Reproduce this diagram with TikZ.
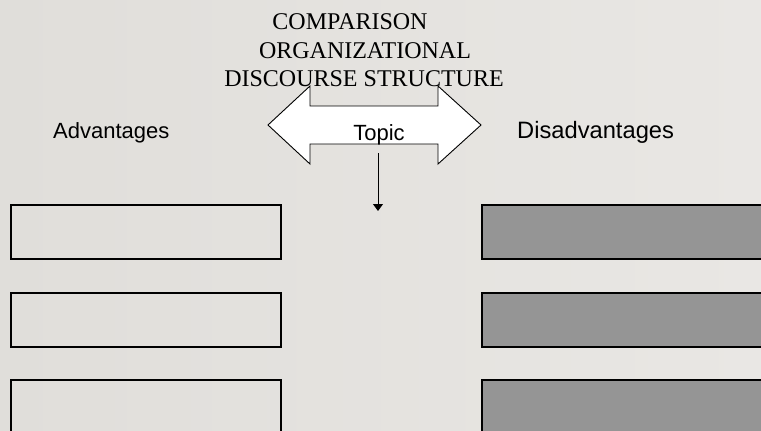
\documentclass[tikz,border=0pt]{standalone}
\usepackage{fontspec}
\setmainfont{Liberation Serif}
\newfontfamily\arialfont{Liberation Sans}
\usetikzlibrary{arrows.meta}
\definecolor{bgL}{RGB}{224,222,218}
\definecolor{bgR}{RGB}{233,231,228}
\definecolor{boxgray}{RGB}{149,149,149}
\tikzset{
  px/.style={x=1pt,y=-1pt},
  boxL/.style={draw=black,line width=1.3pt},
  boxR/.style={draw=black,line width=1.3pt,fill=boxgray},
  titletxt/.style={font=\fontsize{24}{28}\selectfont,anchor=base,inner sep=0pt},
  sidetxt/.style={font=\arialfont\fontsize{22}{26}\selectfont,anchor=base west,inner sep=0pt},
}
\begin{document}
\begin{tikzpicture}[px]
\useasboundingbox (0,0) rectangle (761,431);
\shade[left color=bgL,right color=bgR] (0,0) rectangle (761,431);
% title
\node[titletxt] (t1) at (350,29) {COMPARISON};
\node[titletxt] (t2) at (365,58) {ORGANIZATIONAL};
\node[titletxt] (t3) at (364,86) {DISCOURSE STRUCTURE};
% double arrow
\draw[black,line width=0.9pt,fill=white,line join=miter]
  (268,125) -- (310,86) -- (310,106) -- (438,106) -- (438,86) -- (481,125)
  -- (438,164) -- (438,144) -- (310,144) -- (310,164) -- cycle;
\node[sidetxt,anchor=base] (topic) at (379,140) {Topic};
\node[sidetxt] (adv) at (53,138) {Advantages};
\node[sidetxt,font=\arialfont\fontsize{23.7}{28}\selectfont] (dis) at (517,138) {Disadvantages};
% down arrow
\coordinate (ds) at (378,153);
\coordinate (de) at (378,211);
\draw[line width=0.9pt,-{Triangle[length=7pt,width=10pt]}] (ds) -- (de);
% boxes
\draw[boxL] (11,205) rectangle (281,259);
\draw[boxL] (11,293) rectangle (281,347);
\draw[boxL] (11,380) rectangle (281,440);
\draw[boxR] (482,205) rectangle (770,259);
\draw[boxR] (482,293) rectangle (770,347);
\draw[boxR] (482,380) rectangle (770,440);
\end{tikzpicture}
\end{document}
